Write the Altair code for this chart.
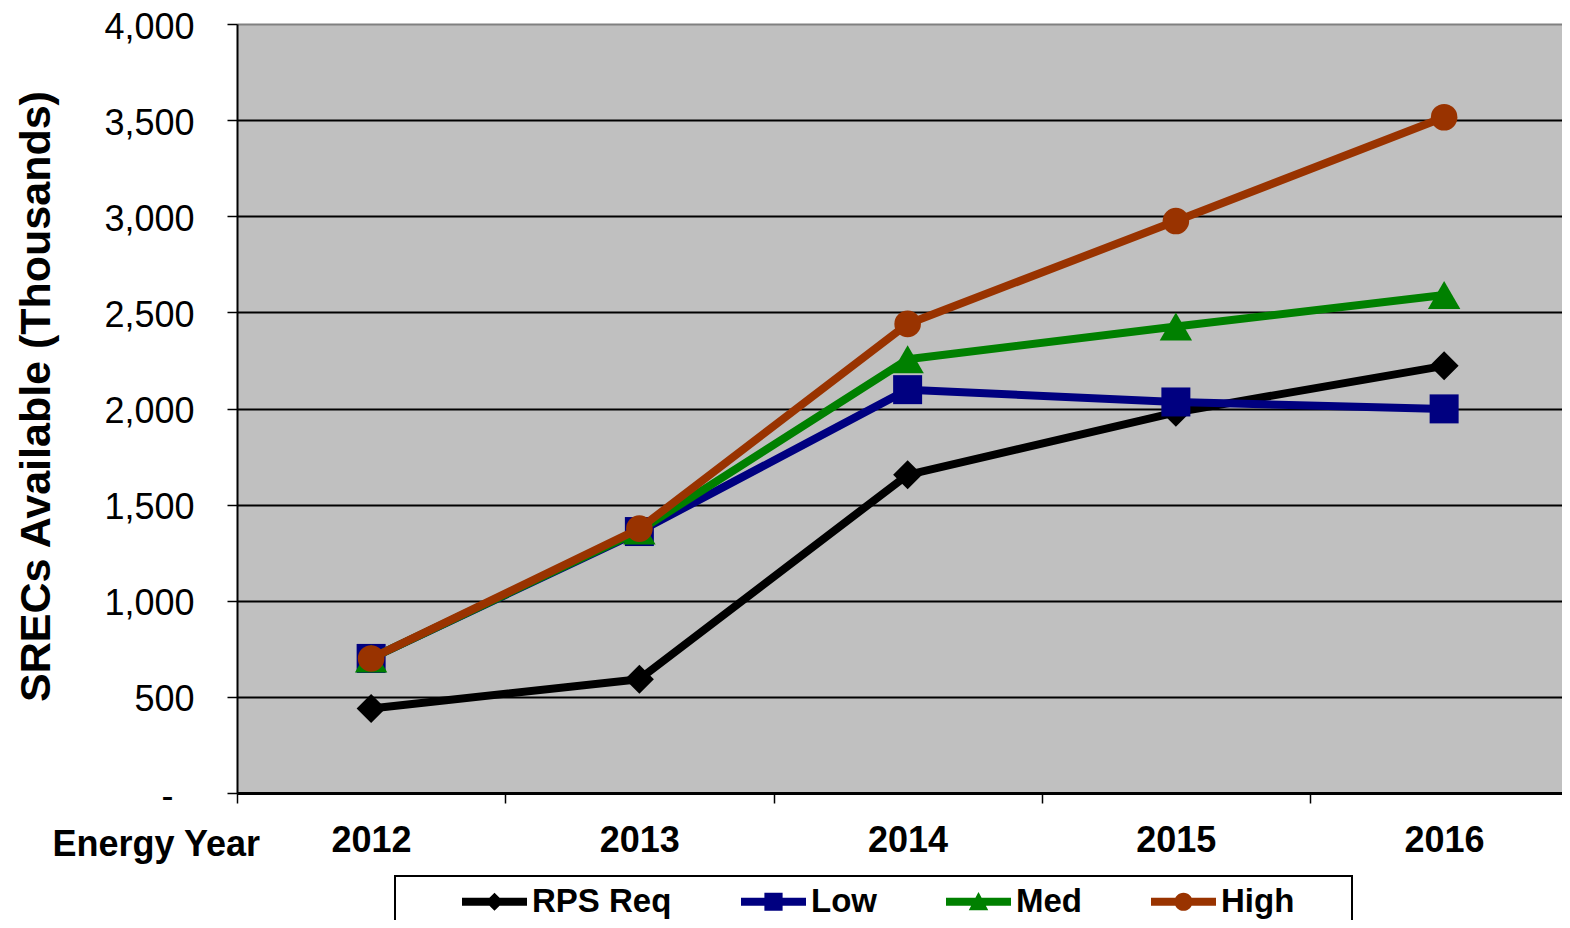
import altair as alt
import pandas as pd

years = [2012, 2013, 2014, 2015, 2016]
series_names = ["RPS Req", "Low", "Med", "High"]
rps_req = [440, 592, 1655, 1980, 2222]
low = [700, 1360, 2098, 2034, 1998]
med = [700, 1365, 2256, 2427, 2590]
high = [700, 1375, 2440, 2975, 3515]
colors = ["#000000", "#000080", "#008000", "#993300"]
shapes = ["diamond", "square", "triangle-up", "circle"]
sizes = [841, 841, 1050, 707]
y_ticks = [0, 500, 1000, 1500, 2000, 2500, 3000, 3500, 4000]
x_boundaries = [2011.5, 2012.5, 2013.5, 2014.5, 2015.5]

bar = "M-1,-0.12L1,-0.12L1,0.12L-1,0.12Z"
legend_paths = [
    bar + " M0,-0.28L0.28,0L0,0.28L-0.28,0Z",
    bar + " M-0.28,-0.28L0.28,-0.28L0.28,0.28L-0.28,0.28Z",
    bar + " M0,-0.3L0.3,0.26L-0.3,0.26Z",
    bar + " M-0.28,0A0.28,0.28 0 1,1 0.28,0A0.28,0.28 0 1,1 -0.28,0Z",
]

rows = []
for name, vals in zip(series_names, [rps_req, low, med, high]):
    for yr, v in zip(years, vals):
        rows.append({"year": yr, "value": v, "series": name})
df = pd.DataFrame(rows)

FONT = "Liberation Sans"

x_enc = alt.X(
    "year:Q",
    scale=alt.Scale(domain=[2011.5, 2016.4394], nice=False, zero=False),
    axis=alt.Axis(
        values=x_boundaries,
        labelExpr="format(datum.value + 0.5, 'd')",
        labelOffset=134,
        labelFont=FONT,
        labelFontSize=36,
        labelFontWeight="bold",
        labelColor="#000000",
        labelBaseline="middle",
        labelPadding=37,
        labelOverlap=False,
        labelFlush=False,
        labelBound=False,
        tickSize=10,
        tickColor="#000000",
        tickWidth=1.5,
        domainColor="#000000",
        domainWidth=3,
        grid=False,
        title="Energy Year",
        titleFont=FONT,
        titleFontSize=36,
        titleFontWeight="bold",
        titleColor="#000000",
        titleX=-185,
        titleY=51,
        titleAlign="left",
        titleBaseline="middle",
    ),
)

y_enc = alt.Y(
    "value:Q",
    scale=alt.Scale(domain=[0, 4000], nice=False),
    axis=alt.Axis(
        values=y_ticks,
        labelExpr="datum.value == 0 ? '-' : format(datum.value, ',')",
        labelFont=FONT,
        labelFontSize=36,
        labelColor="#000000",
        labelOffset=3,
        labelPadding={"condition": {"test": "datum.value === 0", "value": 54}, "value": 33},
        labelOverlap=False,
        labelFlush=False,
        labelBound=False,
        tickSize=10,
        tickColor="#000000",
        tickWidth=1.5,
        domainColor="#000000",
        domainWidth=2,
        grid=True,
        gridColor={"condition": {"test": "datum.value === 4000", "value": "#808080"}, "value": "#000000"},
        gridWidth=2,
        title="SRECs Available (Thousands)",
        titleFont=FONT,
        titleFontSize=43,
        titleFontWeight="bold",
        titleColor="#000000",
        titleAngle=270,
        titleX=-201,
        titleY=372,
        titleAlign="center",
        titleBaseline="middle",
    ),
)

base = alt.Chart(df)

layers = []

box = alt.Chart(pd.DataFrame({"k": [0]})).mark_rect(
    fillOpacity=0, stroke="#000000", strokeWidth=2
).encode(
    x=alt.value(158), x2=alt.value(1115), y=alt.value(852), y2=alt.value(980)
)
layers.append(box)

for name, c, shp, sz in zip(series_names, colors, shapes, sizes):
    sub = base.transform_filter(alt.datum.series == name)
    layers.append(
        sub.mark_line(color=c, strokeWidth=8, strokeJoin="round", strokeCap="round").encode(x=x_enc, y=y_enc)
    )
    layers.append(
        sub.mark_point(filled=True, shape=shp, size=sz, color=c, opacity=1, strokeWidth=0).encode(x=x_enc, y=y_enc)
    )

leg = alt.Legend(
    orient="none",
    legendX=225,
    legendY=845,
    direction="horizontal",
    columns=4,
    title=None,
    padding=0,
    symbolSize=4225,
    symbolStrokeWidth=0,
    symbolOpacity=1,
    labelFont=FONT,
    labelFontSize=33,
    labelFontWeight="bold",
    labelColor="#000000",
    labelOffset=5,
    labelLimit=400,
    columnPadding=69,
)

legend_layer = base.transform_filter("datum.value < 0").mark_point(filled=True, opacity=1).encode(
    x=x_enc,
    y=y_enc,
    color=alt.Color("series:N", scale=alt.Scale(domain=series_names, range=colors), legend=leg),
    shape=alt.Shape("series:N", scale=alt.Scale(domain=series_names, range=legend_paths), legend=leg),
)
layers.append(legend_layer)

chart = alt.layer(*layers).properties(
    width=1325,
    height=769,
    autosize=alt.AutoSizeParams(type="none"),
    padding={"left": 229, "top": 16, "right": 0, "bottom": 127},
).configure_view(
    fill="#C0C0C0", strokeWidth=0
)

chart.save("out.html", embed_options={"renderer": "svg", "actions": False})
